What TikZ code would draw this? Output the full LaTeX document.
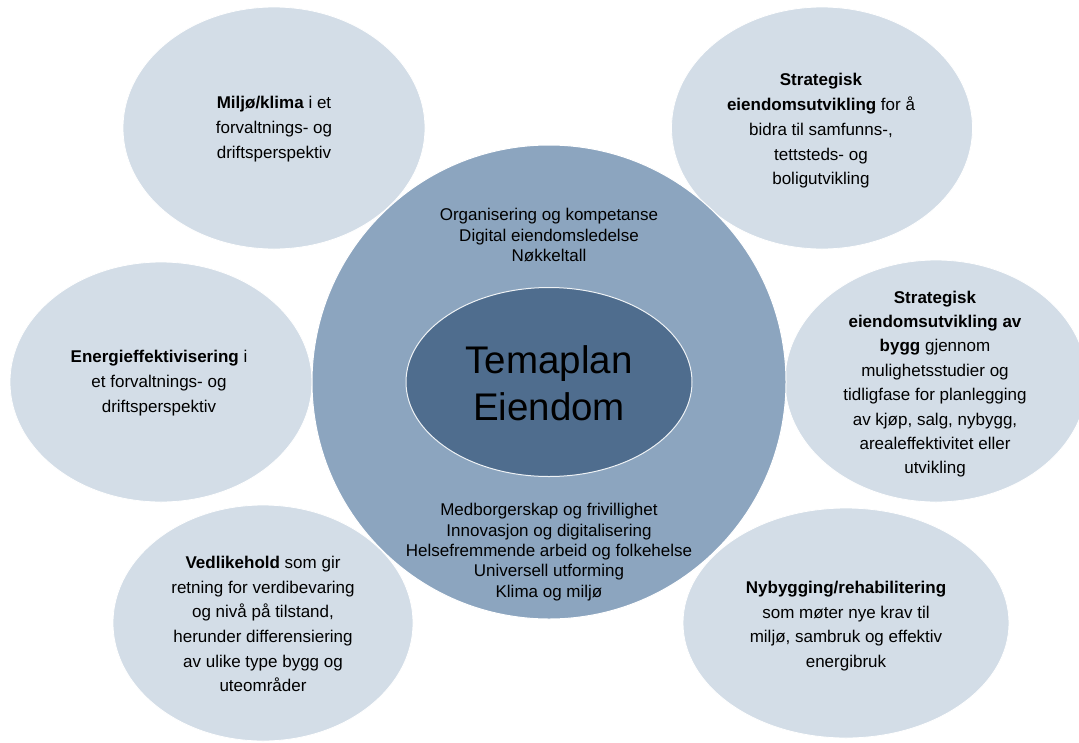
\documentclass[tikz,border=0pt]{standalone}
\usepackage{fontspec}
\setmainfont{Liberation Sans}
\usetikzlibrary{shapes.geometric}
\definecolor{outerfill}{HTML}{D3DDE7}
\definecolor{ringfill}{HTML}{8CA5BF}
\definecolor{corefill}{HTML}{4F6D8E}
\tikzset{
  petal/.style={ellipse, fill=outerfill, draw=white, line width=0.8pt, inner sep=0pt},
  petaltext/.style={align=center, inner sep=0pt, text=black, font=\fontsize{17}{24.7}\selectfont},
  ringtext/.style={align=center, inner sep=0pt, text=black, font=\fontsize{17}{20.8}\selectfont},
}
\begin{document}
\begin{tikzpicture}[x=1pt,y=-1pt]
\useasboundingbox (0,0) rectangle (1079,742);
\fill[white] (0,0) rectangle (1079,742);
\clip (0,0) rectangle (1079,742);
% outer petals
\node[petal, minimum width=302pt, minimum height=242pt] (tl) at (274,128) {};
\node[petal, minimum width=301pt, minimum height=242pt] (tr) at (822,128) {};
\node[petal, minimum width=302pt, minimum height=240pt] (ml) at (161,382) {};
\node[petal, minimum width=302pt, minimum height=242pt] (mr) at (936,381) {};
\node[petal, minimum width=300pt, minimum height=236pt] (bl) at (263,623) {};
\node[petal, minimum width=326pt, minimum height=230pt] (br) at (846,623) {};
% central ring and core
\node[circle, fill=ringfill, draw=white, line width=1pt, minimum size=474pt, inner sep=0pt] (ring) at (549,382) {};
\node[ellipse, fill=corefill, draw=white!85!ringfill, line width=1pt, minimum width=286pt, minimum height=189pt, inner sep=0pt] (core) at (549,382) {};
% texts
\node[petaltext] (tltext) at (274,129) {\textbf{Miljø/klima} i et\\forvaltnings- og\\driftsperspektiv};
\node[petaltext] (trtext) at (821,131) {\textbf{Strategisk}\\\textbf{eiendomsutvikling} for å\\bidra til samfunns-,\\tettsteds- og\\boligutvikling};
\node[petaltext] (mltext) at (159,383) {\textbf{Energieffektivisering} i\\et forvaltnings- og\\driftsperspektiv};
\node[petaltext, font=\fontsize{17}{24.4}\selectfont] (mrtext) at (935,384) {\textbf{Strategisk}\\\textbf{eiendomsutvikling av}\\\textbf{bygg} gjennom\\mulighetsstudier og\\tidligfase for planlegging\\av kjøp, salg, nybygg,\\arealeffektivitet eller\\utvikling};
\node[petaltext] (bltext) at (263,624) {\textbf{Vedlikehold} som gir\\retning for verdibevaring\\og nivå på tilstand,\\herunder differensiering\\av ulike type bygg og\\uteområder};
\node[petaltext] (brtext) at (846,626) {\textbf{Nybygging/rehabilitering}\\som møter nye krav til\\miljø, sambruk og effektiv\\energibruk};
\node[ringtext] (ringtop) at (549,235) {Organisering og kompetanse\\Digital eiendomsledelse\\Nøkkeltall};
\node[ringtext, font=\fontsize{17}{20.3}\selectfont] (ringbottom) at (549,552) {Medborgerskap og frivillighet\\Innovasjon og digitalisering\\Helsefremmende arbeid og folkehelse\\Universell utforming\\Klima og miljø};
\node[align=center, inner sep=0pt, text=black, font=\fontsize{38.5}{47}\selectfont] (title) at (549,383) {Temaplan\\Eiendom};
\end{tikzpicture}
\end{document}
